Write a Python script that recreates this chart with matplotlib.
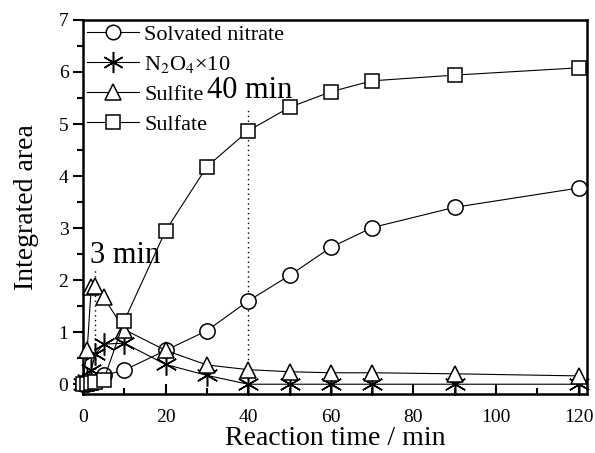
#!/usr/bin/env python3
import numpy as np
import matplotlib.pyplot as plt
from matplotlib.ticker import MultipleLocator

# reaction time points (min)
t = [0, 1, 2, 3, 5, 10, 20, 30, 40, 50, 60, 70, 90, 120]

# integrated band areas
nitrate = [0, 0, 0.02, 0.05, 0.17, 0.27, 0.65, 1.03, 1.60, 2.09, 2.63, 3.01, 3.40, 3.77]
n2o4_x10 = [0, 0.08, 0.28, 0.58, 0.77, 0.79, 0.38, 0.17, 0, 0, 0, 0, 0, 0]
sulfite = [0.05, 0.65, 1.87, 1.88, 1.67, 1.05, 0.65, 0.37, 0.28, 0.24, 0.22, 0.22, 0.20, 0.16]
sulfate = [0, 0, 0.02, 0.05, 0.08, 1.22, 2.95, 4.18, 4.87, 5.32, 5.62, 5.83, 5.94, 6.08]

labels = ["Solvated nitrate", r"N$_2$O$_4$×10", "Sulfite", "Sulfate"]
series = [nitrate, n2o4_x10, sulfite, sulfate]
markers = ["o", (6, 2, 0), "^", "s"]
msizes = [11, 16, 12, 10]

# marked times
marks = [3, 40]
mark_tops = [2.2, 5.3]


def main():
    plt.rcParams["font.family"] = ["Liberation Serif", "DejaVu Serif"]
    plt.rcParams["mathtext.fontset"] = "stix"

    fig = plt.figure(figsize=(5.95, 4.53), dpi=100)
    ax = fig.add_axes([0.1395, 0.130, 0.847, 0.826])

    for y, lab, m, ms in zip(series, labels, markers, msizes):
        ax.plot(t, y, color="black", linewidth=0.8, marker=m, markersize=ms,
                markerfacecolor="white", markeredgecolor="black",
                markeredgewidth=1.1, label=lab, clip_on=False, zorder=3)

    for x, top in zip(marks, mark_tops):
        ax.vlines(x, 0, top, colors="black", linestyles=(0, (1, 2.5)),
                  linewidth=1.0, zorder=2)

    ax.text(1.7, 2.33, "3 min", fontsize=22)
    ax.text(30, 5.5, "40 min", fontsize=22)

    ax.set_xlim(0, 122)
    ax.set_ylim(-0.19, 7)
    ax.xaxis.set_major_locator(MultipleLocator(20))
    ax.xaxis.set_minor_locator(MultipleLocator(10))
    ax.yaxis.set_major_locator(MultipleLocator(1))
    ax.yaxis.set_minor_locator(MultipleLocator(0.5))
    ax.tick_params(axis="x", which="both", direction="in", width=1.5, labelsize=14, pad=11)
    ax.tick_params(axis="x", which="major", length=7)
    ax.tick_params(axis="x", which="minor", length=4)
    ax.tick_params(axis="y", which="both", direction="out", width=1.5, labelsize=14)
    ax.tick_params(axis="y", which="major", length=7)
    ax.tick_params(axis="y", which="minor", length=4)
    for s in ax.spines.values():
        s.set_linewidth(1.8)

    ax.set_xlabel("Reaction time / min", fontsize=20, labelpad=0)
    ax.set_ylabel("Integrated area", fontsize=20, labelpad=14)

    ax.legend(loc="upper left", frameon=False, fontsize=16, handlelength=2.3,
              handletextpad=0.25, labelspacing=0.42, borderaxespad=0.1,
              borderpad=0.1, markerscale=0.95)

    fig.savefig("out.png", dpi=100)


if __name__ == "__main__":
    main()
